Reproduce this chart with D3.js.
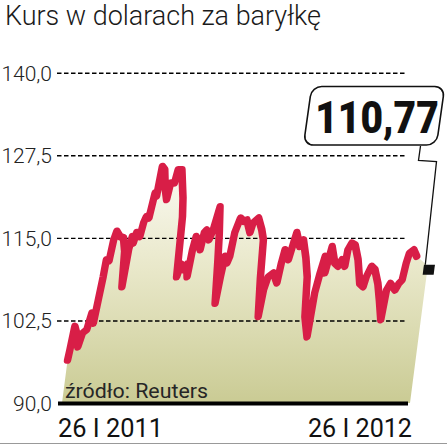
<!DOCTYPE html>
<html>
<head>
<meta charset="utf-8">
<script src="https://cdn.jsdelivr.net/npm/d3@7"></script>
<style>
  body { margin: 0; background: #fff; }
  svg { display: block; font-family: Roboto, "Noto Sans", sans-serif; }
</style>
</head>
<body>
<div id="chart"></div>
<script>
// dane: kurs ropy Brent, dni liczone od 26 I 2011
var startDate = new Date(2011, 0, 26);
var endDate = new Date(2012, 0, 26);
var dni  = [0, 1, 3, 6, 9, 12, 16, 19, 22, 24, 26, 27, 30, 32, 34, 38, 42, 45, 47, 49, 51, 53, 55, 59, 61, 63, 66, 69, 71, 73, 76, 79, 82, 84, 88, 90, 94, 99, 101, 103, 106, 109, 112, 114, 116, 118, 122, 124, 126, 128, 132, 135, 139, 142, 144, 147, 149, 151, 154, 156, 158, 162, 166, 169, 174, 176, 181, 186, 189, 191, 194, 196, 199, 204, 209, 211, 213, 218, 221, 223, 228, 231, 236, 240, 243, 248, 250, 253, 256, 258, 262, 267, 271, 274, 278, 279, 282, 286, 291, 296, 300, 302, 306, 310, 315, 319, 323, 325, 328, 334, 337, 340, 342, 344, 348, 352];
var kurs = [96.5, 98.0, 101.6, 100.5, 98.5, 100.6, 101.1, 103.6, 102.1, 105.6, 109.1, 111.7, 111.5, 114.7, 116.0, 115.2, 115.0, 113.0, 107.6, 113.2, 115.2, 114.2, 115.8, 115.2, 117.3, 118.2, 118.0, 121.8, 121.3, 125.8, 125.3, 122.5, 120.8, 123.3, 123.3, 125.3, 125.3, 121.0, 118.2, 109.1, 111.0, 110.2, 111.0, 109.1, 113.2, 115.2, 114.0, 113.2, 115.8, 116.2, 114.7, 116.2, 119.7, 115.5, 111.7, 105.1, 109.1, 112.2, 111.2, 112.2, 115.8, 118.0, 117.5, 117.7, 115.8, 117.3, 118.0, 116.2, 114.7, 109.0, 103.1, 107.1, 109.1, 109.7, 108.2, 111.2, 113.2, 111.7, 114.2, 115.8, 113.7, 114.7, 112.0, 109.1, 103.1, 100.0, 106.6, 109.7, 112.2, 109.7, 113.7, 111.2, 110.7, 111.7, 110.7, 113.2, 114.2, 113.9, 111.7, 108.1, 107.6, 109.1, 110.7, 110.2, 108.1, 105.5, 102.6, 107.1, 108.1, 107.1, 108.1, 108.6, 111.2, 112.7, 113.2, 112.2];
var ostatniKurs = 110.77;
var yTicks = [90, 102.5, 115, 127.5, 140];
var xLabels = ["26 I 2011", "26 I 2012"];
var tytul = "Kurs w dolarach za baryłkę";
var zrodlo = "źródło: Reuters";

var width = 447, height = 445;
var base = 403;
var skew = -7.4;

var svg = d3.select('#chart').append('svg')
    .attr('width', width)
    .attr('height', height);

var data = dni.map(function(d, i){
    return {date: d3.timeDay.offset(startDate, d), value: kurs[i]};
});
var areaData = data.concat([{date: endDate, value: ostatniKurs}]);

var x = d3.scaleTime().domain([startDate, endDate]).range([62, 410]);
var y = d3.scaleLinear().domain([90, 140]).range([base, 72.7]);

var plFormat = d3.formatLocale({decimal: ",", thousands: " ", grouping: [3], currency: ["", " zł"]}).format(".1f");

var defs = svg.append('defs');
var grad = defs.append('linearGradient')
    .attr('id', 'fillGrad')
    .attr('gradientUnits', 'userSpaceOnUse')
    .attr('x1', 0).attr('y1', 165).attr('x2', 0).attr('y2', base);
grad.append('stop').attr('offset', 0).attr('stop-color', '#fbfaf3');
grad.append('stop').attr('offset', 0.45).attr('stop-color', '#e8e7c8');
grad.append('stop').attr('offset', 1).attr('stop-color', '#cacb94');

// tytul
svg.append('text')
    .attr('x', 5).attr('y', 25)
    .attr('font-size', 27)
    .attr('font-weight', 300)
    .attr('fill', '#1a1a1a')
    .attr('textLength', 316)
    .attr('lengthAdjust', 'spacingAndGlyphs')
    .text(tytul);

var skewed = 'translate(0,' + base + ') skewX(' + skew + ') translate(0,' + (-base) + ')';

// pole pod wykresem
var plot = svg.append('g').attr('transform', skewed);
plot.append('path')
    .datum(areaData)
    .attr('fill', 'url(#fillGrad)')
    .attr('d', d3.area()
        .x(function(d){ return x(d.date); })
        .y0(base)
        .y1(function(d){ return y(d.value); }));

// os Y z liniami siatki
var yAxis = d3.axisLeft(y)
    .tickValues(yTicks)
    .tickSize(-348)
    .tickPadding(5)
    .tickFormat(plFormat);

var yg = svg.append('g')
    .attr('transform', 'translate(57,0)')
    .call(yAxis);
yg.select('.domain').remove();
yg.selectAll('.tick line')
    .attr('stroke', '#000')
    .attr('stroke-width', 1.4)
    .attr('stroke-dasharray', '4.5,2.5');
yg.selectAll('.tick text')
    .attr('font-size', 21)
    .attr('font-weight', 300)
    .attr('fill', '#222')
    .attr('font-family', 'Roboto, sans-serif')
    .attr('dy', '0.36em');
yg.selectAll('.tick').filter(function(d){ return d === 90; })
    .select('line')
    .attr('x1', 1)
    .attr('x2', 351)
    .attr('stroke-width', 4)
    .attr('stroke-dasharray', null);

// zrodlo
svg.append('text')
    .attr('x', 65).attr('y', 398)
    .attr('font-size', 20)
    .attr('fill', '#262626')
    .attr('textLength', 143)
    .attr('lengthAdjust', 'spacingAndGlyphs')
    .text(zrodlo);

// linia kursu
var line2 = svg.append('g').attr('transform', skewed);
line2.append('path')
    .datum(data)
    .attr('fill', 'none')
    .attr('stroke', '#d81e47')
    .attr('stroke-width', 7.5)
    .attr('stroke-linejoin', 'round')
    .attr('stroke-linecap', 'round')
    .attr('d', d3.line()
        .x(function(d){ return x(d.date); })
        .y(function(d){ return y(d.value); }));

// znacznik ostatniego kursu
var mx = x(endDate), my = y(ostatniKurs);
line2.append('rect')
    .attr('x', mx - 4).attr('y', my - 1)
    .attr('width', 11).attr('height', 10)
    .attr('fill', '#111');

// etykiety dat
svg.append('text')
    .attr('x', x(startDate) - 4).attr('y', 437)
    .attr('font-size', 25)
    .attr('fill', '#111')
    .attr('textLength', 105)
    .attr('lengthAdjust', 'spacingAndGlyphs')
    .text(xLabels[0]);
svg.append('text')
    .attr('x', x(endDate) - 102).attr('y', 437)
    .attr('font-size', 25)
    .attr('fill', '#111')
    .attr('textLength', 104)
    .attr('lengthAdjust', 'spacingAndGlyphs')
    .text(xLabels[1]);

// dolna szara linia
svg.append('line')
    .attr('x1', 0).attr('x2', width)
    .attr('y1', 443.5).attr('y2', 443.5)
    .attr('stroke', '#999').attr('stroke-width', 1);

// dymek z wartoscia
var sx = mx + (base - my - 4) * Math.tan(-skew * Math.PI / 180);
svg.append('path')
    .attr('d', 'M420.5,146 L418.5,160.5 L436.5,161.5 L' + (sx - 2) + ',' + (my - 1))
    .attr('fill', 'none')
    .attr('stroke', '#111')
    .attr('stroke-width', 1.3);

var box = svg.append('g')
    .attr('transform', 'translate(0,145) skewX(-8) translate(0,-145)');
box.append('rect')
    .attr('x', 303.5).attr('y', 86.5)
    .attr('width', 133).attr('height', 58.5)
    .attr('rx', 10)
    .attr('fill', '#fff')
    .attr('stroke', '#111')
    .attr('stroke-width', 1.6);
svg.append('text')
    .attr('transform', 'translate(377,133) scale(1,1.12)')
    .attr('text-anchor', 'middle')
    .attr('font-size', 39)
    .attr('font-weight', 900)
    .attr('fill', '#111')
    .text(ostatniKurs.toFixed(2).replace('.', ','));
</script>
</body>
</html>
